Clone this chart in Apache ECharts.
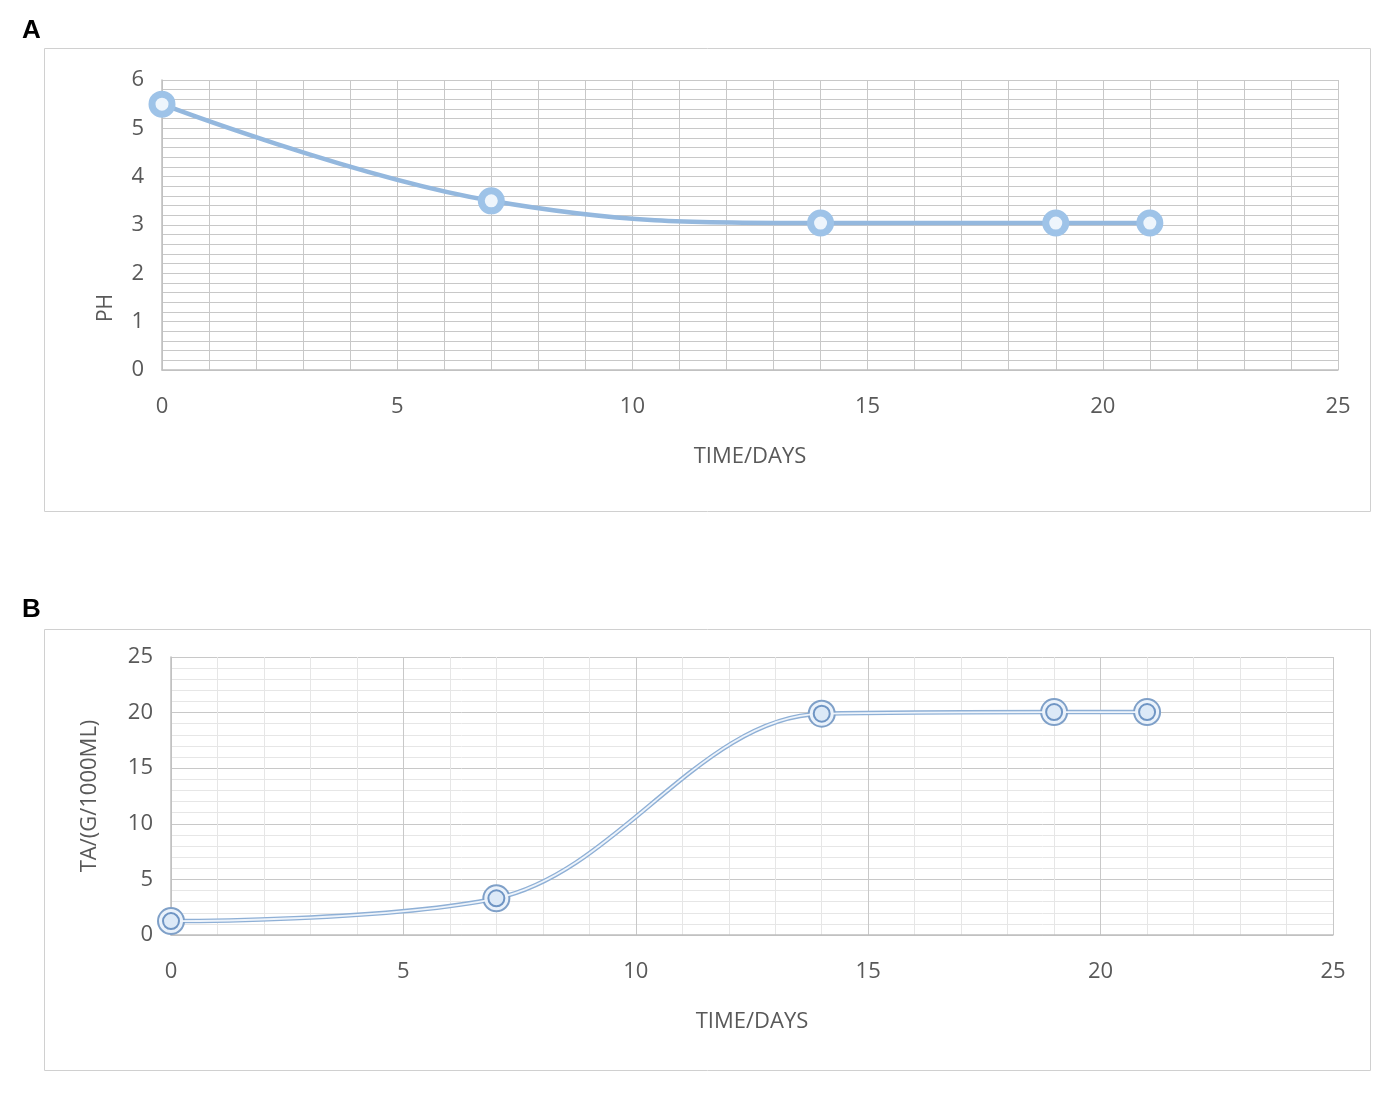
<!DOCTYPE html>
<html><head><meta charset="utf-8">
<script src="https://cdn.jsdelivr.net/npm/echarts@6/dist/echarts.min.js"></script>
<style>html,body{margin:0;padding:0;background:#fff}#c{width:1395px;height:1095px}</style>
</head><body><div id="c"></div>
<script>
const days = [0, 7, 14, 19, 21];
const phValues = [5.5, 3.5, 3.04, 3.04, 3.04];
const taValues = [1.25, 3.3, 19.9, 20.05, 20.05];
const xTicks = [0, 5, 10, 15, 20, 25];
const phTicks = [0, 1, 2, 3, 4, 5, 6];
const taTicks = [0, 5, 10, 15, 20, 25];

const phData = days.map((d, i) => [d, phValues[i]]);
const taData = days.map((d, i) => [d, taValues[i]]);

const labelStyle = {color: '#595959', fontSize: 22, fontFamily: 'Open Sans'};
const nameStyle = {color: '#595959', fontSize: 22, fontFamily: 'Open Sans'};
const chart = echarts.init(document.getElementById('c'));
chart.setOption({
  animation: false,
  graphic: [
    {type: 'rect', shape: {x: 44.5, y: 48.5, width: 1326, height: 463}, style: {fill: 'none', stroke: '#d0d0d0', lineWidth: 1}},
    {type: 'rect', shape: {x: 44.5, y: 629.5, width: 1326, height: 441}, style: {fill: 'none', stroke: '#d0d0d0', lineWidth: 1}},
    {type: 'text', x: 22, y: 18, style: {text: 'A', font: 'bold 26px "Liberation Sans"', fill: '#000'}},
    {type: 'text', x: 22, y: 597, style: {text: 'B', font: 'bold 26px "Liberation Sans"', fill: '#000'}},
    {type: 'text', x: 106, y: 308, rotation: Math.PI / 2, style: {text: 'PH', font: '21px "Open Sans"', fill: '#595959', align: 'center', verticalAlign: 'middle'}}
  ],
  grid: [
    {left: 162, right: 57, top: 80, height: 290},
    {left: 171, right: 62, top: 657, height: 278}
  ],
  xAxis: [
    {type: 'value', gridIndex: 0, min: 0, max: 25, interval: 5,
     name: 'TIME/DAYS', nameLocation: 'middle', nameGap: 76, nameTextStyle: nameStyle,
     axisLine: {show: true, lineStyle: {color: '#bfbfbf', width: 1.5}}, axisTick: {show: false},
     axisLabel: Object.assign({margin: 26}, labelStyle),
     splitLine: {show: true, lineStyle: {color: '#c8c8c8', width: 1}},
     minorTick: {show: false, splitNumber: 5},
     minorSplitLine: {show: true, lineStyle: {color: '#c8c8c8', width: 1}}},
    {type: 'value', gridIndex: 1, min: 0, max: 25, interval: 5,
     name: 'TIME/DAYS', nameLocation: 'middle', nameGap: 76, nameTextStyle: nameStyle,
     axisLine: {show: true, lineStyle: {color: '#bfbfbf', width: 1.5}}, axisTick: {show: false},
     axisLabel: Object.assign({margin: 26}, labelStyle),
     splitLine: {show: true, lineStyle: {color: '#c8c8c8', width: 1}},
     minorTick: {show: false, splitNumber: 5},
     minorSplitLine: {show: true, lineStyle: {color: '#e6e6e6', width: 1}}}
  ],
  yAxis: [
    {type: 'value', gridIndex: 0, min: 0, max: 6, interval: 1,
     axisLine: {show: true, lineStyle: {color: '#bfbfbf', width: 1.5}}, axisTick: {show: false},
     axisLabel: Object.assign({margin: 18}, labelStyle),
     splitLine: {show: true, lineStyle: {color: '#c8c8c8', width: 1}},
     minorTick: {show: false, splitNumber: 5},
     minorSplitLine: {show: true, lineStyle: {color: '#c8c8c8', width: 1}}},
    {type: 'value', gridIndex: 1, min: 0, max: 25, interval: 5,
     name: 'TA/(G/1000ML)', nameLocation: 'middle', nameGap: 70, nameTextStyle: nameStyle,
     axisLine: {show: true, lineStyle: {color: '#bfbfbf', width: 1.5}}, axisTick: {show: false},
     axisLabel: Object.assign({margin: 18}, labelStyle),
     splitLine: {show: true, lineStyle: {color: '#c8c8c8', width: 1}},
     minorTick: {show: false, splitNumber: 5},
     minorSplitLine: {show: true, lineStyle: {color: '#e6e6e6', width: 1}}}
  ],
  series: [
    {type: 'line', xAxisIndex: 0, yAxisIndex: 0, data: phData, smooth: 0.4,
     lineStyle: {color: '#94b8de', width: 4.5},
     symbol: 'circle', symbolSize: 20,
     itemStyle: {color: '#eef5fc', borderColor: '#9ec3e8', borderWidth: 7}, z: 3},
    {type: 'line', xAxisIndex: 1, yAxisIndex: 1, data: taData, smooth: 0.35,
     lineStyle: {color: '#8fb0d6', width: 4.5},
     symbol: 'circle', symbolSize: 26,
     itemStyle: {color: '#eaf2fb', borderColor: '#7fa0c8', borderWidth: 2}, z: 3},
    {type: 'line', xAxisIndex: 1, yAxisIndex: 1, data: taData, smooth: 0.35,
     lineStyle: {color: '#eef4fb', width: 1.8},
     symbol: 'circle', symbolSize: 16,
     itemStyle: {color: '#dce9f7', borderColor: '#6f95c4', borderWidth: 2}, z: 4}
  ]
});
</script>
</body></html>
